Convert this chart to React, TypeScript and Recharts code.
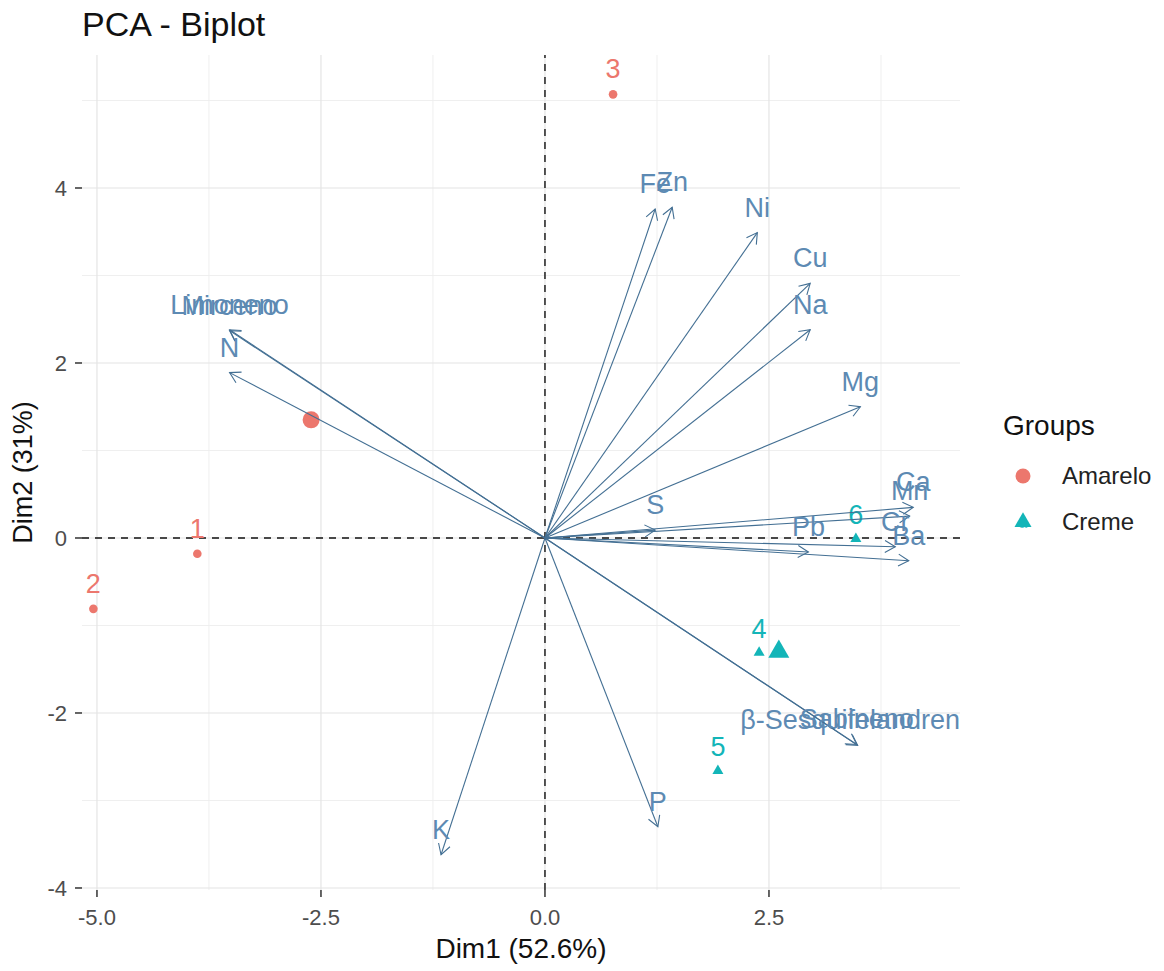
import React from 'react';
import { ScatterChart, Scatter, XAxis, YAxis, ReferenceLine, Customized } from 'recharts';

const FONT = '"Liberation Sans", Arial, Helvetica, sans-serif';

// axis ticks and grid
const X_TICKS = [-5, -2.5, 0, 2.5];
const Y_TICKS = [-4, -2, 0, 2, 4];
const X_MINOR = [-3.75, -1.25, 1.25, 3.75];
const Y_MINOR = [-3, -1, 1, 3, 5];
const X_DOMAIN: [number, number] = [-5.167, 4.632];
const Y_DOMAIN: [number, number] = [-4.023, 5.52];

// individuals
const amareloNames = ['1', '2', '3'];
const amareloX = [-3.88, -5.04, 0.76];
const amareloY = [-0.18, -0.81, 5.07];
const cremeNames = ['4', '5', '6'];
const cremeX = [2.39, 1.93, 3.47];
const cremeY = [-1.31, -2.66, -0.01];

// group centroids
const groupNames = ['Amarelo', 'Creme'];
const groupX = [-2.61, 2.61];
const groupY = [1.35, -1.3];

// variables (arrows)
const varNames = ['Fe', 'Zn', 'Ni', 'Cu', 'Na', 'Mg', 'Limoneno', 'Mirceno', 'N', 'K', 'P', 'β-Sesquifelandreno', 'Sabineno', 'S', 'Ca', 'Mn', 'Cr', 'Ba', 'Pb'];
const varX = [1.23, 1.42, 2.37, 2.96, 2.96, 3.52, -3.52, -3.52, -3.52, -1.16, 1.26, 3.49, 3.48, 1.23, 4.11, 4.07, 3.91, 4.06, 2.94];
const varY = [3.76, 3.78, 3.49, 2.91, 2.38, 1.5, 2.38, 2.37, 1.89, -3.62, -3.3, -2.37, -2.36, 0.09, 0.35, 0.25, -0.1, -0.26, -0.16];

const COL_A = '#EC776D';
const COL_C = '#13B5B8';
const ARROW = '#436F93';
const VARTEXT = '#5D8AB3';
const LABEL_SIZE = 27;

const amareloData = amareloNames.map((n, i) => ({ name: n, x: amareloX[i], y: amareloY[i] }));
const cremeData = cremeNames.map((n, i) => ({ name: n, x: cremeX[i], y: cremeY[i] }));
const amareloMean = [{ name: groupNames[0], x: groupX[0], y: groupY[0] }];
const cremeMean = [{ name: groupNames[1], x: groupX[1], y: groupY[1] }];

const triPoints = (cx: number, cy: number, s: number) => {
  const h = s * 0.866;
  return `${cx},${cy - (2 * h) / 3} ${cx - s / 2},${cy + h / 3} ${cx + s / 2},${cy + h / 3}`;
};

const circleShape = (r: number, withLabel: boolean) => (p: any) => (
  <g>
    <circle cx={p.cx} cy={p.cy} r={r} fill={COL_A} />
    {withLabel ? (
      <text x={p.cx} y={p.cy - 16} textAnchor="middle" fontSize={LABEL_SIZE} fill={COL_A} fontFamily={FONT}>
        {p.payload.name}
      </text>
    ) : null}
  </g>
);

const triShape = (s: number, withLabel: boolean) => (p: any) => (
  <g>
    <polygon points={triPoints(p.cx, p.cy, s)} fill={COL_C} />
    {withLabel ? (
      <text x={p.cx} y={p.cy - 15} textAnchor="middle" fontSize={LABEL_SIZE} fill={COL_C} fontFamily={FONT}>
        {p.payload.name}
      </text>
    ) : null}
  </g>
);

const makeArrow = (label: string) => (props: any) => {
  const pts = props.points;
  if (!pts || pts.length < 2) return <g />;
  const a = pts[0];
  const b = pts[1];
  const ang = Math.atan2(b.y - a.y, b.x - a.x);
  const L = 12;
  const h = Math.PI / 6;
  const p1x = b.x - L * Math.cos(ang - h);
  const p1y = b.y - L * Math.sin(ang - h);
  const p2x = b.x - L * Math.cos(ang + h);
  const p2y = b.y - L * Math.sin(ang + h);
  return (
    <g>
      <line x1={a.x} y1={a.y} x2={b.x} y2={b.y} stroke={ARROW} strokeWidth={1.1} />
      <polyline points={`${p1x},${p1y} ${b.x},${b.y} ${p2x},${p2y}`} fill="none" stroke={ARROW} strokeWidth={1.1} />
      <text x={b.x} y={b.y - 16} textAnchor="middle" fontSize={LABEL_SIZE} fill={VARTEXT} fontFamily={FONT}>
        {label}
      </text>
    </g>
  );
};

const noShape = () => <g />;

const Decorations = () => (
  <g fontFamily={FONT}>
    <text x={82} y={36} fontSize={34} fill="#111">PCA - Biplot</text>
    <text x={521} y={958} textAnchor="middle" fontSize={28} fill="#111">Dim1 (52.6%)</text>
    <text transform="translate(32,472.5) rotate(-90)" textAnchor="middle" fontSize={27} fill="#111">Dim2 (31%)</text>
    <text x={1003} y={435} fontSize={28} fill="#111">Groups</text>
    <text x={1023} y={482} textAnchor="middle" fontSize={15} fill={COL_A} opacity={0.7}>a</text>
    <circle cx={1023} cy={476} r={7.5} fill={COL_A} />
    <text x={1062} y={484} fontSize={24} fill="#222">Amarelo</text>
    <text x={1023} y={528} textAnchor="middle" fontSize={15} fill={COL_C} opacity={0.7}>a</text>
    <polygon points={triPoints(1023, 522, 17)} fill={COL_C} />
    <text x={1062} y={530} fontSize={24} fill="#222">Creme</text>
  </g>
);

export default function App() {
  return (
    <div style={{ width: 1164, height: 971, margin: '-8px 0 0 -8px' }}>
      <ScatterChart width={1164} height={971} margin={{ top: 55, right: 204, bottom: 8, left: 0 }}>
        <XAxis
          type="number"
          dataKey="x"
          domain={X_DOMAIN}
          ticks={X_TICKS}
          interval={0}
          allowDataOverflow
          axisLine={false}
          tickLine={{ stroke: '#333', strokeWidth: 1.5 }}
          tickSize={7}
          tickMargin={12}
          height={73}
          tickFormatter={(v: number) => v.toFixed(1)}
          tick={{ fill: '#4D4D4D', fontSize: 22, fontFamily: FONT }}
        />
        <YAxis
          type="number"
          dataKey="y"
          domain={Y_DOMAIN}
          ticks={Y_TICKS}
          interval={0}
          allowDataOverflow
          axisLine={false}
          tickLine={{ stroke: '#333', strokeWidth: 1.5 }}
          tickSize={7}
          tickMargin={8}
          width={82}
          tickFormatter={(v: number) => String(v)}
          tick={{ fill: '#4D4D4D', fontSize: 22, fontFamily: FONT }}
        />
        {X_MINOR.map((v) => (
          <ReferenceLine key={'xm' + v} x={v} stroke="#EDEDED" strokeWidth={0.9} />
        ))}
        {Y_MINOR.map((v) => (
          <ReferenceLine key={'ym' + v} y={v} stroke="#EDEDED" strokeWidth={0.9} />
        ))}
        {X_TICKS.map((v) => (
          <ReferenceLine key={'xM' + v} x={v} stroke="#E4E4E4" strokeWidth={1.2} />
        ))}
        {Y_TICKS.map((v) => (
          <ReferenceLine key={'yM' + v} y={v} stroke="#E4E4E4" strokeWidth={1.2} />
        ))}
        <ReferenceLine x={0} stroke="#111" strokeWidth={1.4} strokeDasharray="7 6" />
        <ReferenceLine y={0} stroke="#111" strokeWidth={1.4} strokeDasharray="7 6" />

        <Scatter data={amareloData} shape={circleShape(4.3, true)} isAnimationActive={false} />
        <Scatter data={cremeData} shape={triShape(11, true)} isAnimationActive={false} />
        <Scatter data={amareloMean} shape={circleShape(8.5, false)} isAnimationActive={false} />
        <Scatter data={cremeMean} shape={triShape(21, false)} isAnimationActive={false} />

        {varNames.map((n, i) => (
          <Scatter
            key={'v' + i}
            data={[{ x: 0, y: 0 }, { x: varX[i], y: varY[i] }]}
            line={makeArrow(n)}
            shape={noShape}
            isAnimationActive={false}
          />
        ))}
        <Customized component={Decorations} />
      </ScatterChart>
    </div>
  );
}
